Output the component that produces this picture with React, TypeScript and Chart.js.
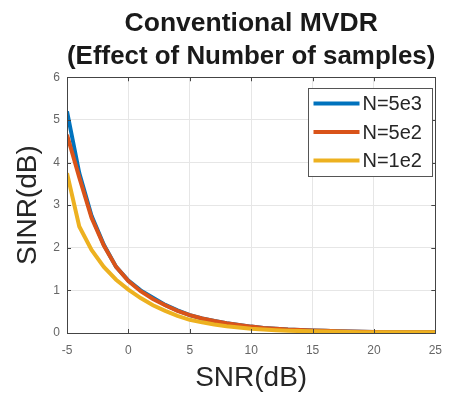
import React, { useEffect, useRef } from "react";
import { Chart, registerables } from "chart.js";

Chart.register(...registerables);

const snr = [-5, -4, -3, -2, -1, 0, 1, 2, 3, 4, 5, 6, 7, 8, 9, 10, 11, 12, 13, 14, 15, 16, 17, 18, 19, 20, 21, 22, 23, 24, 25];
const sinrN5e3 = [5.2, 3.75, 2.75, 2.07, 1.55, 1.23, 1.0, 0.83, 0.66, 0.53, 0.42, 0.34, 0.28, 0.23, 0.19, 0.15, 0.12, 0.1, 0.08, 0.07, 0.06, 0.05, 0.04, 0.035, 0.03, 0.025, 0.02, 0.02, 0.02, 0.02, 0.02];
const sinrN5e2 = [4.65, 3.65, 2.7, 2.05, 1.55, 1.22, 0.98, 0.8, 0.65, 0.52, 0.42, 0.34, 0.28, 0.23, 0.19, 0.15, 0.12, 0.1, 0.08, 0.07, 0.06, 0.05, 0.04, 0.035, 0.03, 0.025, 0.02, 0.02, 0.02, 0.02, 0.02];
const sinrN1e2 = [3.75, 2.5, 1.95, 1.55, 1.25, 1.02, 0.82, 0.65, 0.52, 0.4, 0.31, 0.25, 0.2, 0.16, 0.13, 0.1, 0.08, 0.065, 0.055, 0.045, 0.04, 0.035, 0.03, 0.025, 0.02, 0.02, 0.02, 0.02, 0.02, 0.02, 0.02];
const seriesLabels = ["N=5e3", "N=5e2", "N=1e2"];
const seriesColors = ["#0072BD", "#D95319", "#EDB120"];
const titleLines = ["Conventional MVDR", "(Effect of Number of samples)"];
const xTitle = "SNR(dB)";
const yTitle = "SINR(dB)";

const FONT = "'Liberation Sans', Arial, Helvetica, sans-serif";

const boxPlugin = {
  id: "matlabBox",
  afterDatasetsDraw(chart: any) {
    const { ctx, chartArea: a, scales } = chart;
    ctx.save();
    ctx.strokeStyle = "#444";
    ctx.lineWidth = 1;
    const xs = scales.x, ys = scales.y;
    xs.ticks.forEach((t: any) => {
      const px = Math.round(xs.getPixelForValue(t.value)) + 0.5;
      ctx.beginPath();
      ctx.moveTo(px, a.bottom); ctx.lineTo(px, a.bottom - 4);
      ctx.moveTo(px, a.top); ctx.lineTo(px, a.top + 4);
      ctx.stroke();
    });
    ys.ticks.forEach((t: any) => {
      const py = Math.round(ys.getPixelForValue(t.value)) + 0.5;
      ctx.beginPath();
      ctx.moveTo(a.left, py); ctx.lineTo(a.left + 4, py);
      ctx.moveTo(a.right, py); ctx.lineTo(a.right - 4, py);
      ctx.stroke();
    });
    ctx.strokeRect(Math.round(a.left) + 0.5, Math.round(a.top) + 0.5, Math.round(a.right - a.left), Math.round(a.bottom - a.top));

    // legend
    const bw = 124, bh = 88;
    const bx = Math.round(a.right - 3 - bw) + 0.5;
    const by = Math.round(a.top + 11) + 0.5;
    ctx.fillStyle = "#fff";
    ctx.fillRect(bx, by, bw, bh);
    ctx.strokeStyle = "#555";
    ctx.strokeRect(bx, by, bw, bh);
    ctx.font = `20px ${FONT}`;
    ctx.textBaseline = "middle";
    ctx.textAlign = "left";
    chart.data.datasets.forEach((ds: any, i: number) => {
      const y = by + 15 + i * 28.5;
      ctx.strokeStyle = ds.borderColor;
      ctx.lineWidth = 4;
      ctx.beginPath();
      ctx.moveTo(bx + 5, y);
      ctx.lineTo(bx + 51, y);
      ctx.stroke();
      ctx.fillStyle = "#262626";
      ctx.fillText(ds.label, bx + 54, y + 1);
    });
    ctx.restore();
  },
};

export default function App() {
  const ref = useRef<HTMLCanvasElement | null>(null);
  useEffect(() => {
    const series = [sinrN5e3, sinrN5e2, sinrN1e2];
    const chart = new Chart(ref.current!, {
      type: "line",
      data: {
        datasets: series.map((s, i) => ({
          label: seriesLabels[i],
          data: snr.map((x, j) => ({ x, y: s[j] })),
          borderColor: seriesColors[i],
          backgroundColor: seriesColors[i],
          borderWidth: 4,
          pointRadius: 0,
          tension: 0,
          order: 2 - i,
        })),
      },
      options: {
        animation: false,
        responsive: false,
        layout: { padding: { left: 0, right: 10, top: 0, bottom: 0 } },
        plugins: {
          legend: { display: false },
          tooltip: { enabled: false },
          title: {
            display: true,
            text: titleLines,
            fullSize: false,
            color: "#1a1a1a",
            font: { family: FONT, size: 26.5, weight: "bold", lineHeight: 1.25 },
            padding: { top: 7, bottom: 4 },
          },
        },
        scales: {
          x: {
            type: "linear",
            min: -5,
            max: 25,
            ticks: { stepSize: 5, color: "#666", font: { family: FONT, size: 12 }, padding: 10 },
            grid: { color: "#e6e6e6", drawTicks: false },
            border: { color: "#444" },
            title: { display: true, text: xTitle, color: "#262626", font: { family: FONT, size: 28 }, padding: { top: 0, bottom: 1 } },
            afterFit: (s: any) => { s.height = 63; },
          },
          y: {
            type: "linear",
            min: 0,
            max: 6,
            ticks: { stepSize: 1, color: "#666", font: { family: FONT, size: 12 }, padding: 7 },
            grid: { color: "#e6e6e6", drawTicks: false },
            border: { color: "#444" },
            title: { display: true, text: yTitle, color: "#262626", font: { family: FONT, size: 28 }, padding: { top: 11, bottom: 0 } },
            afterFit: (s: any) => { s.width = 67; },
          },
        },
      },
      plugins: [boxPlugin],
    });
    return () => chart.destroy();
  }, []);
  return (
    <div style={{ position: "fixed", left: 0, top: 0, width: 452, height: 396, background: "#fff" }}>
      <canvas ref={ref} width={452} height={396} style={{ display: "block" }} />
    </div>
  );
}
